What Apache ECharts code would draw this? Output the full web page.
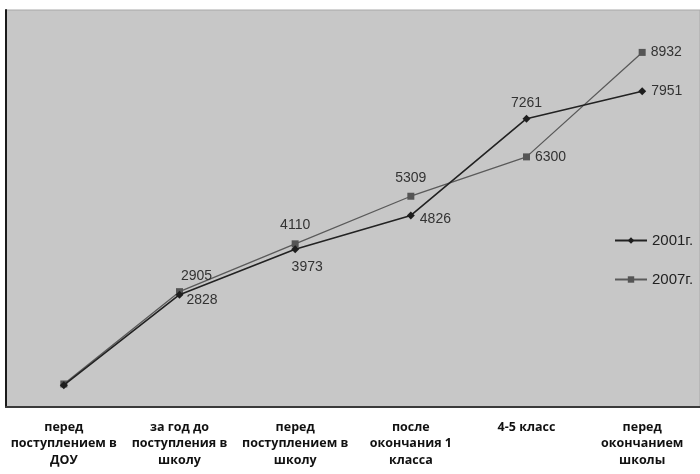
<!DOCTYPE html>
<html>
<head>
<meta charset="utf-8">
<script src="https://cdn.jsdelivr.net/npm/echarts@6/dist/echarts.min.js"></script>
<style>
  html, body { margin: 0; padding: 0; background: #ffffff; }
  #chart { width: 700px; height: 474px; }
</style>
</head>
<body>
<div id="chart"></div>
<script>
// Stages of schooling (x-axis categories)
const categories = [
  'перед\nпоступлением в\nДОУ',
  'за год до\nпоступления в\nшколу',
  'перед\nпоступлением в\nшколу',
  'после\nокончания 1\nкласса',
  '4-5 класс',
  'перед\nокончанием\nшколы'
];

// Series values
const values2001 = [550, 2828, 3973, 4826, 7261, 7951];
const values2007 = [580, 2905, 4110, 5309, 6300, 8932];

// Where each value label sits relative to its point (first point unlabeled)
const labelPos2001 = [null, 'right', 'bottom', 'right', 'top', 'right'];
const labelPos2007 = [null, 'top', 'top', 'top', 'right', 'right'];
const labelOffset2001 = [[0, 0], [-2, 5], [12, 2], [0, 4], [0, 0], [0, 0]];
const labelOffset2007 = [[0, 0], [17, 0], [0, -3], [0, -3], [0, 0], [0, 0]];

function buildData(values, positions, offsets) {
  return values.map((v, i) => ({
    value: v,
    label: positions[i]
      ? { show: true, position: positions[i], offset: offsets[i] }
      : { show: false }
  }));
}

const labelStyle = {
  fontFamily: 'Liberation Sans, Arial, sans-serif',
  fontSize: 14,
  color: '#333'
};

const chart = echarts.init(document.getElementById('chart'), null, { renderer: 'canvas' });
chart.setOption({
  animation: false,
  backgroundColor: '#ffffff',
  grid: {
    left: 6, right: 0, top: 10, bottom: 67,
    show: true,
    backgroundColor: '#c7c7c7',
    borderColor: '#a8a8a8',
    borderWidth: 1
  },
  legend: {
    orient: 'vertical',
    left: 609,
    top: 228,
    itemGap: 24,
    itemWidth: 32,
    itemHeight: 8,
    textStyle: { fontFamily: 'Liberation Sans, Arial, sans-serif', fontSize: 15, color: '#222' },
    data: ['2001г.', '2007г.']
  },
  xAxis: {
    type: 'category',
    data: categories,
    boundaryGap: true,
    axisLine: { show: true, lineStyle: { color: '#3a3a3a', width: 2 } },
    axisTick: { show: false },
    axisLabel: {
      interval: 0,
      margin: 12,
      fontFamily: 'Open Sans, sans-serif',
      fontWeight: 700,
      fontSize: 12.5,
      lineHeight: 16.5,
      color: '#111'
    }
  },
  yAxis: {
    type: 'value',
    min: 0,
    max: 10000,
    interval: 2000,
    axisLine: { show: true, lineStyle: { color: '#1a1a1a', width: 2 } },
    axisTick: { show: false },
    axisLabel: { show: false },
    splitLine: { show: false }
  },
  series: [
    {
      name: '2001г.',
      type: 'line',
      data: buildData(values2001, labelPos2001, labelOffset2001),
      symbol: 'diamond',
      symbolSize: 8,
      lineStyle: { color: '#222', width: 1.6 },
      itemStyle: { color: '#1e1e1e' },
      label: labelStyle,
      z: 3
    },
    {
      name: '2007г.',
      type: 'line',
      data: buildData(values2007, labelPos2007, labelOffset2007),
      symbol: 'rect',
      symbolSize: 7,
      lineStyle: { color: '#5a5a5a', width: 1.3 },
      itemStyle: { color: '#555' },
      label: labelStyle,
      z: 2
    }
  ]
});
</script>
</body>
</html>
